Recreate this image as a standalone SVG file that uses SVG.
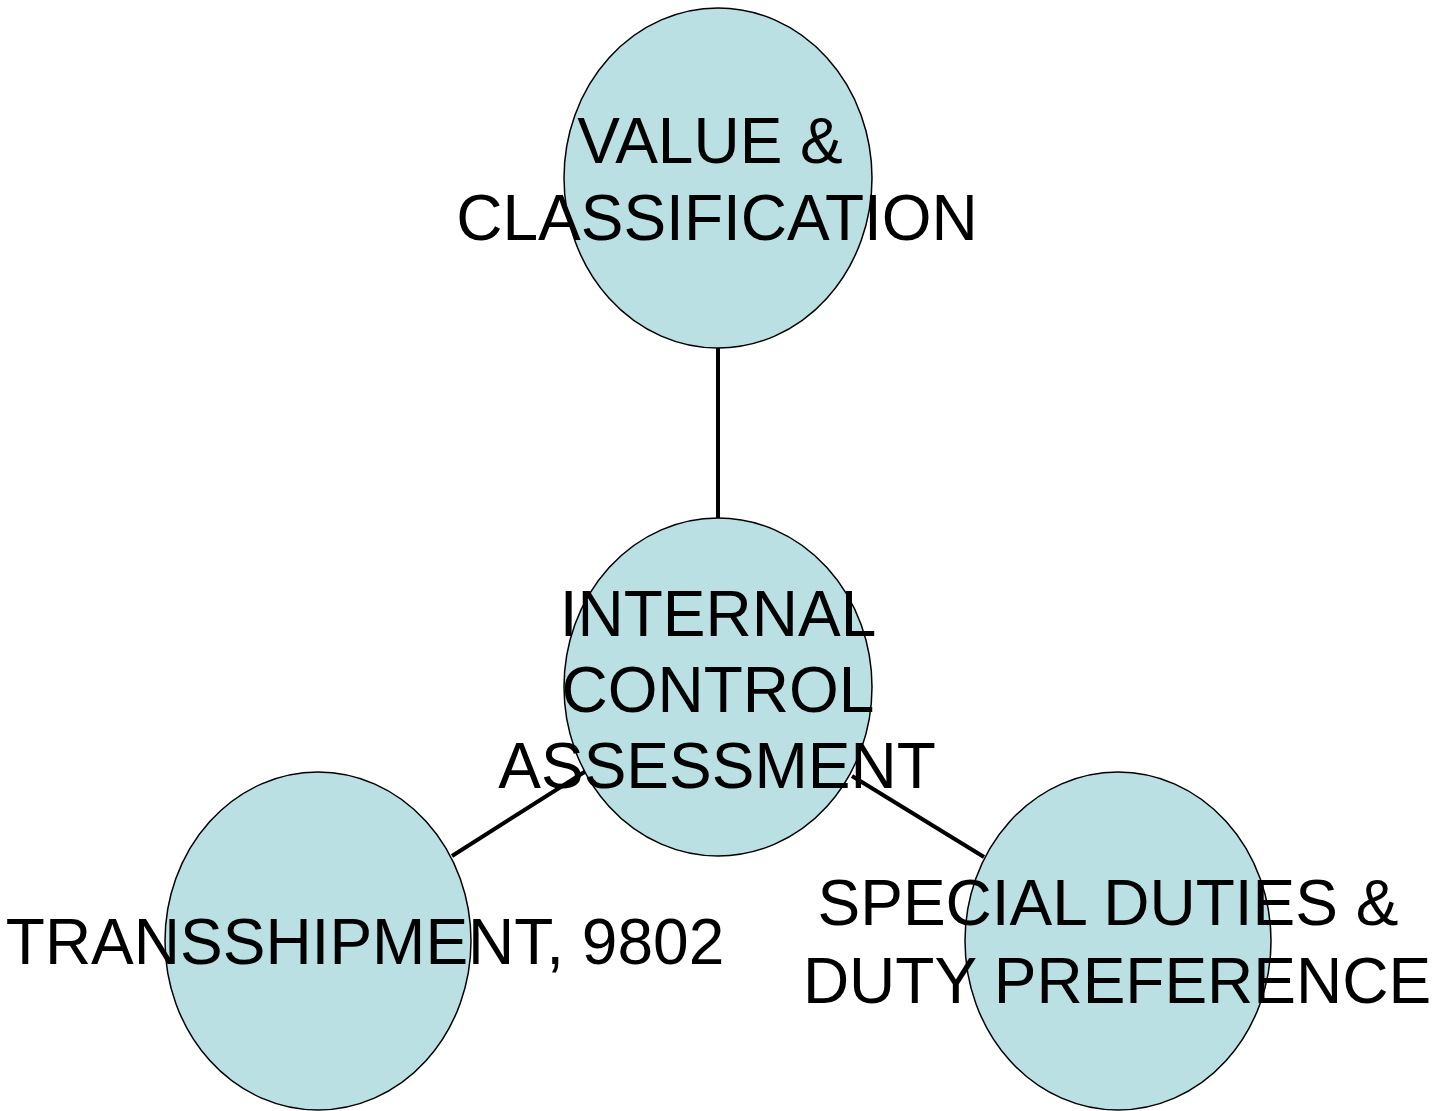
<svg xmlns="http://www.w3.org/2000/svg" width="1435" height="1111" viewBox="0 0 1435 1111">
<style>
.node{fill:#BAE0E4;stroke:#000;stroke-width:1.5}
.edge{stroke:#000;stroke-width:4;fill:none}
text{font-family:"Liberation Sans",Arial,sans-serif;font-size:64px;fill:#000;text-anchor:middle}
</style>
<rect width="1435" height="1111" fill="#fff"/>
<g id="connectors">
<line class="edge" x1="718" y1="348" x2="718" y2="518"/>
<line class="edge" x1="452" y1="856" x2="586" y2="771"/>
<line class="edge" x1="852" y1="776" x2="984" y2="857"/>
</g>
<g id="value-classification">
<ellipse class="node" cx="718" cy="178" rx="154" ry="170"/>
<text x="710" y="163">VALUE &amp;</text>
<text x="717" y="240">CLASSIFICATION</text>
</g>
<g id="internal-control">
<ellipse class="node" cx="718" cy="687" rx="154" ry="169"/>
<text x="718" y="636">INTERNAL</text>
<text x="718" y="712">CONTROL</text>
<text x="717" y="788">ASSESSMENT</text>
</g>
<g id="transshipment">
<ellipse class="node" cx="318" cy="941" rx="153" ry="169"/>
<text x="365" y="964">TRANSSHIPMENT, 9802</text>
</g>
<g id="special-duties">
<ellipse class="node" cx="1118" cy="941" rx="153" ry="169"/>
<text x="1108" y="925">SPECIAL DUTIES &amp;</text>
<text x="1117" y="1003">DUTY PREFERENCE</text>
</g>
</svg>
